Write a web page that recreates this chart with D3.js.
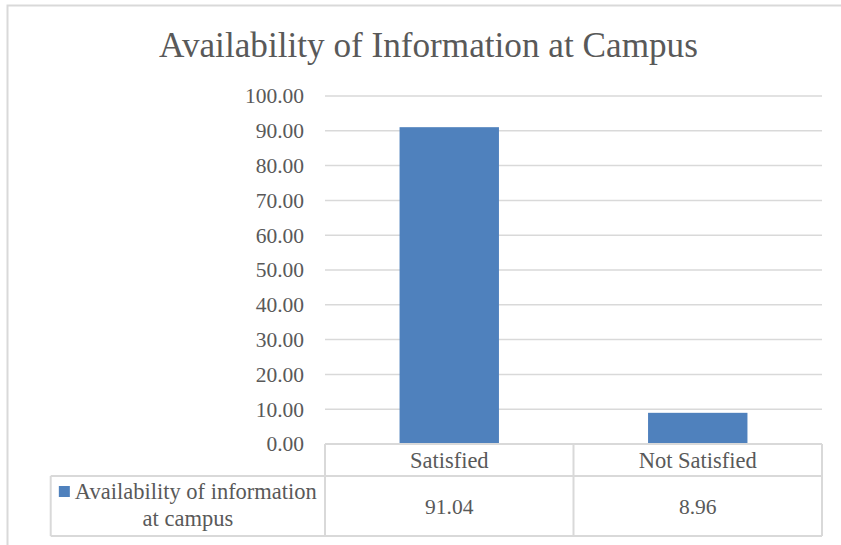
<!DOCTYPE html>
<html>
<head>
<meta charset="utf-8">
<script src="https://cdn.jsdelivr.net/npm/d3@7"></script>
<style>
  html, body { margin: 0; padding: 0; background: #fff; }
  svg { display: block; }
  text { font-family: "Liberation Serif", "Times New Roman", serif; fill: #595959; }
</style>
</head>
<body>
<svg id="chart" width="841" height="545"></svg>
<script>
const title = "Availability of Information at Campus";
const categories = ["Satisfied", "Not Satisfied"];
const seriesName = "Availability of information at campus";
const seriesLines = ["Availability of information", "at campus"];
const values = [91.04, 8.96];
const yTicks = [0, 10, 20, 30, 40, 50, 60, 70, 80, 90, 100];

const W = 841, H = 545;
const svg = d3.select("#chart");
svg.append("rect").attr("width", W).attr("height", H).attr("fill", "#fff");

// outer chart border
svg.append("rect")
  .attr("x", 7.5).attr("y", 5.5).attr("width", 900).attr("height", 600)
  .attr("fill", "none").attr("stroke", "#d9d9d9").attr("stroke-width", 2);

const gridColor = "#d9d9d9";
const plotL = 325, plotR = 822, plotT = 96, plotB = 444;
const row1B = 476, row2B = 536, legL = 50.7;
const numFont = 21.5, txtFont = 22.5;

const x = d3.scaleBand().domain(categories).range([plotL, plotR]).paddingInner(0).paddingOuter(0);
const y = d3.scaleLinear().domain([0, 100]).range([plotB, plotT]);

// title
svg.append("text")
  .attr("x", 428.5).attr("y", 56.5)
  .attr("text-anchor", "middle")
  .attr("font-size", 35.2)
  .text(title);

// gridlines
svg.append("g").selectAll("line")
  .data(yTicks.filter(d => d > 0))
  .join("line")
  .attr("x1", plotL).attr("x2", plotR)
  .attr("y1", d => y(d)).attr("y2", d => y(d))
  .attr("stroke", gridColor).attr("stroke-width", 1.5);

// y axis labels
const yAxis = d3.axisLeft(y).tickValues(yTicks).tickFormat(d3.format(".2f")).tickSize(0).tickPadding(0);
const gy = svg.append("g").attr("transform", `translate(304,0)`).call(yAxis);
gy.select(".domain").remove();
gy.attr("font-family", null).attr("font-size", null);
gy.selectAll("text")
  .attr("font-size", numFont)
  .attr("fill", "#595959");

// bars
const bw = x.bandwidth() * 0.4;
svg.append("g").selectAll("rect")
  .data(values)
  .join("rect")
  .attr("x", (d, i) => x(categories[i]) + x.bandwidth() / 2 - bw / 2)
  .attr("width", bw)
  .attr("y", d => y(d))
  .attr("height", d => y(0) - y(d))
  .attr("fill", "#4f81bd");

// data table
const tbl = svg.append("g").attr("stroke", gridColor).attr("stroke-width", 2).attr("fill", "none");
const hLines = [[plotL, plotR, plotB], [legL, plotR, row1B], [legL, plotR, row2B]];
hLines.forEach(([a, b, yy]) => tbl.append("line").attr("x1", a).attr("x2", b).attr("y1", yy).attr("y2", yy));
const vLines = [[plotL, plotB, row2B], [legL, row1B, row2B], [plotR, plotB, row2B]];
categories.slice(1).forEach(c => vLines.push([x(c), plotB, row2B]));
vLines.forEach(([xx, a, b]) => tbl.append("line").attr("x1", xx).attr("x2", xx).attr("y1", a).attr("y2", b));

// category labels
svg.append("g").selectAll("text")
  .data(categories)
  .join("text")
  .attr("x", d => x(d) + x.bandwidth() / 2)
  .attr("y", (plotB + row1B) / 2)
  .attr("dy", "0.35em")
  .attr("text-anchor", "middle")
  .attr("font-size", txtFont)
  .text(d => d);

// value labels
svg.append("g").selectAll("text")
  .data(values)
  .join("text")
  .attr("x", (d, i) => x(categories[i]) + x.bandwidth() / 2)
  .attr("y", (row1B + row2B) / 2)
  .attr("dy", "0.35em")
  .attr("text-anchor", "middle")
  .attr("font-size", numFont)
  .text(d => d3.format(".2f")(d));

// legend cell
const legCx = (legL + plotL) / 2;
const line1 = svg.append("text")
  .attr("font-size", txtFont)
  .attr("y", 491.5).attr("dy", "0.35em")
  .text(seriesLines[0]);
const l1w = line1.node().getComputedTextLength();
const keySize = 11, gap = 5;
const total = keySize + gap + l1w;
const startX = legCx - total / 2;
svg.append("rect")
  .attr("x", startX).attr("y", 486)
  .attr("width", keySize).attr("height", keySize)
  .attr("fill", "#4f81bd");
line1.attr("x", startX + keySize + gap);
svg.append("text")
  .attr("font-size", txtFont)
  .attr("x", legCx).attr("y", 518.5).attr("dy", "0.35em")
  .attr("text-anchor", "middle")
  .text(seriesLines[1]);
</script>
</body>
</html>
